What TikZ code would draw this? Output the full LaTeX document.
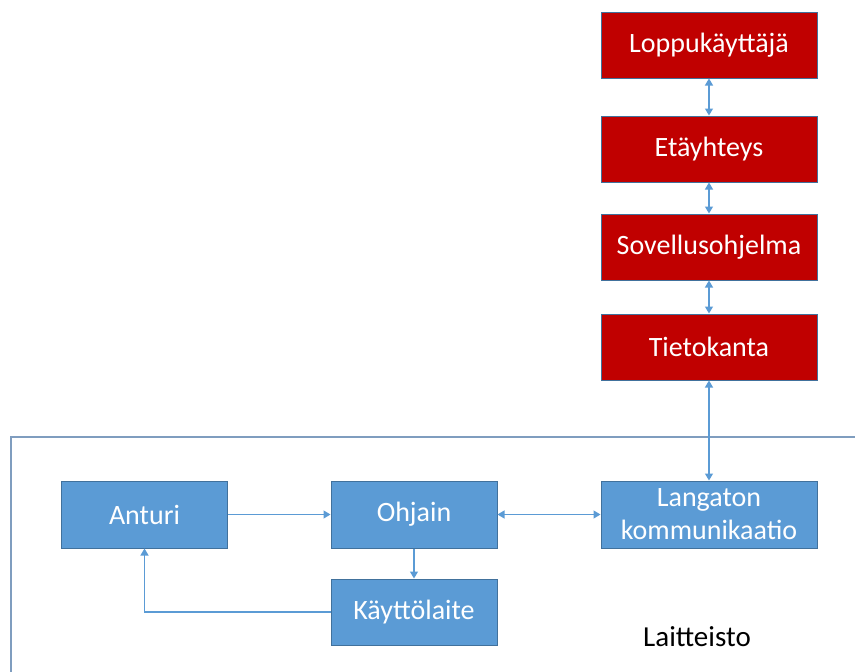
\documentclass[tikz,border=0pt]{standalone}
\usepackage{fontspec}
\setmainfont{Carlito}
\usepackage{xcolor}
\usepackage{tikz}
\usetikzlibrary{arrows.meta,positioning}
\definecolor{boxblue}{HTML}{5B9BD5}
\definecolor{edgeblue}{HTML}{41719C}
\definecolor{boxred}{HTML}{C00000}
\definecolor{framegray}{HTML}{7F9DBF}
\tikzset{redbox/.style={draw=edgeblue,fill=boxred,text=white,line width=1pt,minimum width=216pt,minimum height=66pt,font=\fontsize{28}{33}\selectfont},
  bluebox/.style={draw=edgeblue,fill=boxblue,text=white,line width=1pt,minimum width=166pt,minimum height=67pt,align=center,font=\fontsize{28}{33}\selectfont},
  link/.style={draw=boxblue,line width=1.3pt}}

\begin{document}
\begin{tikzpicture}[x=1pt,y=-1pt,>={Triangle[width=8pt,length=7pt]}]
    \useasboundingbox (0,0) rectangle (855,672);

    \foreach \idx/\yy/\txt in {1/45/Loppukäyttäjä,2/149/Etäyhteys,3/247/Sovellusohjelma,4/347/Tietokanta} {
      \node[redbox] (r\idx) at (709,\yy) {\txt};
    }
    \foreach \a/\b in {1/2,2/3,3/4} {
      \draw[link,<->] (r\a) -- (r\b);
    }

    \draw[framegray,line width=2pt] (855,437) -- (11,437) -- (11,672);

    \node[bluebox] (anturi) at (144.5,514.5) {Anturi};
    \node[bluebox] (ohjain) at (414,514.5) {Ohjain};
    \node[bluebox,minimum width=216pt] (langaton) at (709,514.5) {Langaton\\kommunikaatio};
    \node[bluebox,minimum height=66pt] (kaytto) at (414,612) {Käyttölaite};
    \node[font=\fontsize{29}{33}\selectfont] (laitteisto) at (697,637) {Laitteisto};

    \draw[link,<->] (r4) -- (langaton);
    \draw[link,->] (anturi) -- (ohjain);
    \draw[link,<->] (ohjain) -- (langaton);
    \draw[link,->] (ohjain) -- (kaytto);
    \draw[link,->] (kaytto.west) -| (anturi.south);
  \end{tikzpicture}
\end{document}
